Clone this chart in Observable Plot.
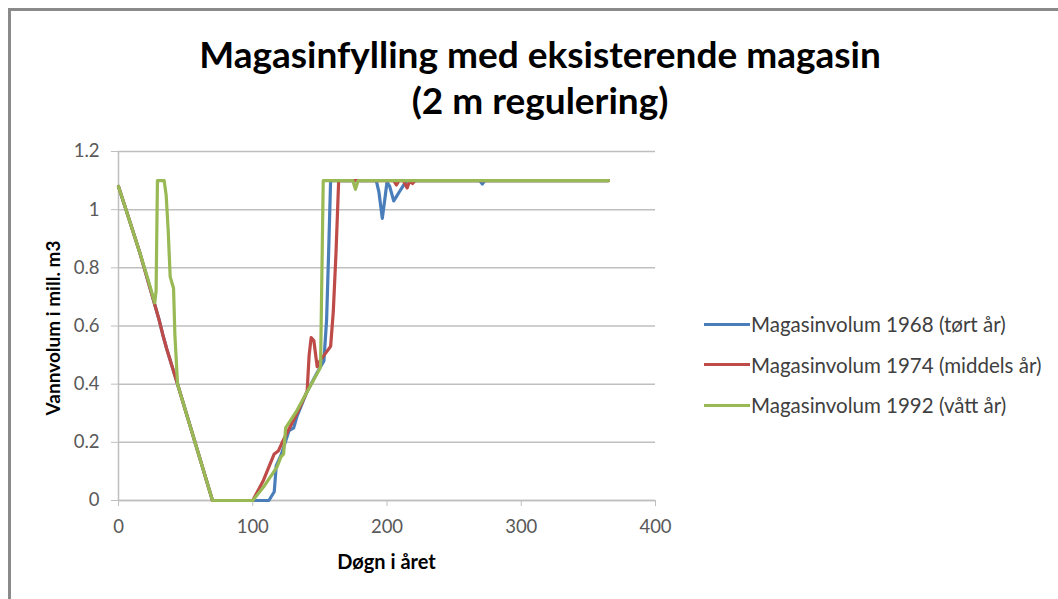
<!DOCTYPE html>
<html>
<head>
<meta charset="utf-8">
<script src="https://cdn.jsdelivr.net/npm/d3@7"></script>
<script src="https://cdn.jsdelivr.net/npm/@observablehq/plot@0.6"></script>
<style>
  body { margin: 0; background: #fff; }
  #chart { position: relative; width: 1058px; height: 599px; overflow: hidden; font-family: Lato, "Open Sans", sans-serif; background: #fff; }
  #frame { position: absolute; left: 8px; top: 8px; width: 1100px; height: 700px; border-top: 3px solid #8a8a8a; border-left: 3px solid #8a8a8a; box-sizing: border-box; }
  #plot { position: absolute; left: 0; top: 0; }
  #title { position: absolute; left: 0; width: 1080px; top: 31px; text-align: center; font-weight: bold; font-size: 37px; line-height: 46px; color: #000; }
  #xlabel { position: absolute; left: 118px; width: 537px; top: 549px; text-align: center; font-weight: bold; font-size: 20px; color: #000; }
  #ylabel { position: absolute; left: 52px; top: 328px; transform: translate(-50%, -50%) rotate(-90deg); white-space: nowrap; font-weight: bold; font-size: 19px; color: #000; }
  .legend-item { position: absolute; left: 704px; height: 26px; display: flex; align-items: center; font-size: 20.5px; color: #404040; white-space: nowrap; }
  .legend-item .swatch { width: 46px; height: 3px; margin-right: 1px; }
</style>
</head>
<body>
<div id="chart">
  <div id="frame"></div>
  <div id="plot"></div>
  <div id="title">Magasinfylling med eksisterende magasin<br>(2 m regulering)</div>
  <div id="xlabel">Døgn i året</div>
  <div id="ylabel">Vannvolum i mill. m3</div>
</div>
<script>
// Reservoir volume (mill. m3) by day of the year, three hydrological years.
const days1968 = [0, 8, 16, 26, 30, 33, 36, 40, 44, 57, 70, 112, 116, 117.5, 121, 127, 130.5, 133, 140, 148, 153, 155, 156.5, 158, 192, 194, 196.5, 198.5, 200, 202, 205, 207, 209, 212.5, 215, 269, 271, 273, 365];
const vol1968  = [1.08, 0.965, 0.85, 0.69, 0.625, 0.57, 0.52, 0.46, 0.40, 0.20, 0, 0, 0.03, 0.12, 0.155, 0.24, 0.25, 0.29, 0.37, 0.44, 0.48, 0.62, 0.85, 1.1, 1.1, 1.06, 0.97, 1.04, 1.095, 1.08, 1.03, 1.045, 1.06, 1.085, 1.1, 1.1, 1.088, 1.1, 1.1];

const days1974 = [0, 8, 16, 26, 30, 33, 36, 40, 44, 57, 70, 100, 108, 116, 119, 123, 133, 140.5, 142, 143.5, 145.5, 148, 150, 158, 160, 162, 164, 205, 207, 209, 212, 215, 217, 219, 221, 365];
const vol1974  = [1.08, 0.965, 0.85, 0.69, 0.625, 0.57, 0.52, 0.46, 0.40, 0.20, 0, 0, 0.07, 0.16, 0.17, 0.21, 0.30, 0.375, 0.50, 0.56, 0.55, 0.46, 0.48, 0.53, 0.65, 0.85, 1.1, 1.1, 1.085, 1.1, 1.1, 1.075, 1.1, 1.09, 1.1, 1.1];

const days1992 = [0, 8, 16, 22, 27, 28, 29, 34, 35.5, 37, 38.5, 40, 41, 42, 44, 57, 70, 100, 108, 118, 121, 123, 124.5, 133, 140, 149, 150.5, 152.5, 174.5, 176.5, 178.5, 365];
const vol1992  = [1.08, 0.965, 0.85, 0.76, 0.68, 0.72, 1.1, 1.1, 1.05, 0.93, 0.77, 0.745, 0.73, 0.57, 0.40, 0.20, 0, 0, 0.046, 0.115, 0.15, 0.16, 0.25, 0.31, 0.37, 0.445, 0.46, 1.1, 1.1, 1.07, 1.1, 1.1];

const seriesNames  = ["Magasinvolum 1968 (tørt år)", "Magasinvolum 1974 (middels år)", "Magasinvolum 1992 (vått år)"];
const seriesColors = ["#4a7ebb", "#be4b48", "#98b954"];

const xTicks = [0, 100, 200, 300, 400];
const yTicks = [0, 0.2, 0.4, 0.6, 0.8, 1, 1.2];

const toRows = (days, vols) => days.map((d, i) => ({day: d, vol: vols[i]}));
const series = [toRows(days1968, vol1968), toRows(days1974, vol1974), toRows(days1992, vol1992)];

const axisGrey = "#bfbfbf";
const plot = Plot.plot({
  width: 680,
  height: 599,
  marginLeft: 118,
  marginRight: 25,
  marginTop: 151,
  marginBottom: 99,
  style: {fontFamily: "Lato, 'Open Sans', sans-serif", fontSize: "18.5px", background: "transparent", overflow: "visible"},
  x: {domain: [0, 400]},
  y: {domain: [0, 1.2]},
  marks: [
    Plot.gridY(yTicks, {stroke: axisGrey, strokeOpacity: 1, strokeWidth: 1.5}),
    Plot.ruleX([0], {stroke: axisGrey, strokeWidth: 1.5}),
    Plot.ruleY([0], {stroke: axisGrey, strokeWidth: 1.5}),
    Plot.axisY({ticks: yTicks, tickSize: 7, tickPadding: 12, tickFormat: d => String(d), stroke: axisGrey, fill: "#595959", label: null}),
    Plot.axisX({ticks: xTicks, tickSize: 6, tickPadding: 13, tickFormat: d => String(d), stroke: axisGrey, fill: "#595959", label: null}),
    ...series.map((rows, i) => Plot.line(rows, {x: "day", y: "vol", stroke: seriesColors[i], strokeWidth: 3.2, strokeLinejoin: "round", strokeLinecap: "round"}))
  ]
});
document.getElementById("plot").appendChild(plot);

// Legend to the right of the plot area
const chartEl = document.getElementById("chart");
const legendY = [324, 364.5, 405];
seriesNames.forEach((name, i) => {
  const item = document.createElement("div");
  item.className = "legend-item";
  item.style.top = (legendY[i] - 13) + "px";
  const sw = document.createElement("div");
  sw.className = "swatch";
  sw.style.background = seriesColors[i];
  const label = document.createElement("span");
  label.textContent = name;
  item.appendChild(sw);
  item.appendChild(label);
  chartEl.appendChild(item);
});
</script>
</body>
</html>
